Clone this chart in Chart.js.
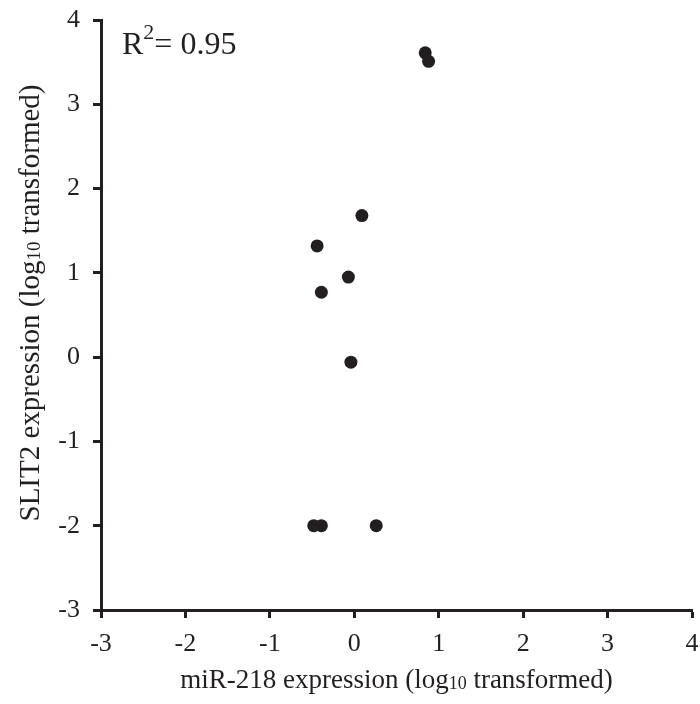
<!DOCTYPE html>
<html lang="en">
<head>
  <meta charset="UTF-8" />
  <title>SLIT2 vs miR-218</title>
  <script src="https://cdn.jsdelivr.net/npm/chart.js"></script>
  <style>
    html, body { margin: 0; padding: 0; background: #fff; }
    .wrap { width: 700px; height: 704px; position: relative; }
  </style>
</head>
<body>
  <div class="wrap"><canvas id="scatterChart"></canvas></div>
  <script>
    // values
    const mir218 = [0.84, 0.88, 0.09, -0.44, -0.07, -0.39, -0.04, -0.48, -0.39, 0.26];
    const slit2 = [3.61, 3.51, 1.68, 1.32, 0.95, 0.77, -0.06, -2.0, -2.0, -2.0];
    const axisMin = -3;
    const axisMax = 4;
    const rSquared = '0.95';

    const ink = '#231f20';
    const serif = '"Liberation Serif", "Times New Roman", serif';

    // axis titles with a small "10" subscript, plus the R² note
    const textPlugin = {
      id: 'textPlugin',
      afterDraw(chart) {
        const ctx = chart.ctx;
        const area = chart.chartArea;
        ctx.save();
        ctx.fillStyle = ink;
        ctx.textBaseline = 'alphabetic';

        function partsWidth(parts) {
          let w = 0;
          parts.forEach(p => { ctx.font = p.size + 'px ' + serif; w += ctx.measureText(p.t).width; });
          return w;
        }
        function drawParts(parts, x, y) {
          parts.forEach(p => {
            ctx.font = p.size + 'px ' + serif;
            ctx.fillText(p.t, x, y + (p.dy || 0));
            x += ctx.measureText(p.t).width;
          });
        }

        const xTitle = [
          { t: 'miR-218 expression (log', size: 27 },
          { t: '10', size: 18, dy: 1 },
          { t: ' transformed)', size: 27 }
        ];
        const yTitle = [
          { t: 'SLIT2 expression (log', size: 29 },
          { t: '10', size: 19, dy: 1 },
          { t: ' transformed)', size: 29 }
        ];

        const cx = (area.left + area.right) / 2;
        drawParts(xTitle, cx - partsWidth(xTitle) / 2, 688);

        ctx.save();
        ctx.translate(39, 303);
        ctx.rotate(-Math.PI / 2);
        drawParts(yTitle, -partsWidth(yTitle) / 2, 0);
        ctx.restore();

        drawParts([
          { t: 'R', size: 32 },
          { t: '2', size: 22, dy: -15 },
          { t: '= ' + rSquared, size: 32 }
        ], 122, 54);

        ctx.restore();
      }
    };

    new Chart(document.getElementById('scatterChart'), {
      type: 'scatter',
      data: {
        datasets: [{
          label: 'samples',
          data: mir218.map((x, i) => ({ x: x, y: slit2[i] })),
          backgroundColor: ink,
          borderWidth: 0,
          pointRadius: 6.5,
          pointHoverRadius: 6.5
        }]
      },
      options: {
        responsive: true,
        maintainAspectRatio: false,
        animation: false,
        layout: { padding: { top: 20, right: 8, left: 0, bottom: 0 } },
        plugins: {
          legend: { display: false },
          tooltip: { enabled: false }
        },
        scales: {
          x: {
            type: 'linear',
            min: axisMin,
            max: axisMax,
            afterFit(scale) {
              scale.height = 94;
              scale.paddingLeft = 0;
              scale.paddingRight = 0;
            },
            ticks: {
              stepSize: 1,
              color: ink,
              padding: 11,
              font: { family: serif, size: 26 }
            },
            grid: {
              drawOnChartArea: false,
              drawTicks: true,
              tickLength: 8,
              tickWidth: 3,
              color: ink
            },
            border: { display: true, width: 3, color: ink }
          },
          y: {
            type: 'linear',
            min: axisMin,
            max: axisMax,
            afterFit(scale) {
              scale.width = 101;
              scale.paddingTop = 0;
              scale.paddingBottom = 0;
            },
            ticks: {
              stepSize: 1,
              color: ink,
              padding: 13,
              font: { family: serif, size: 26 }
            },
            grid: {
              drawOnChartArea: false,
              drawTicks: true,
              tickLength: 8,
              tickWidth: 3,
              color: ink
            },
            border: { display: true, width: 3, color: ink }
          }
        }
      },
      plugins: [textPlugin]
    });
  </script>
</body>
</html>
